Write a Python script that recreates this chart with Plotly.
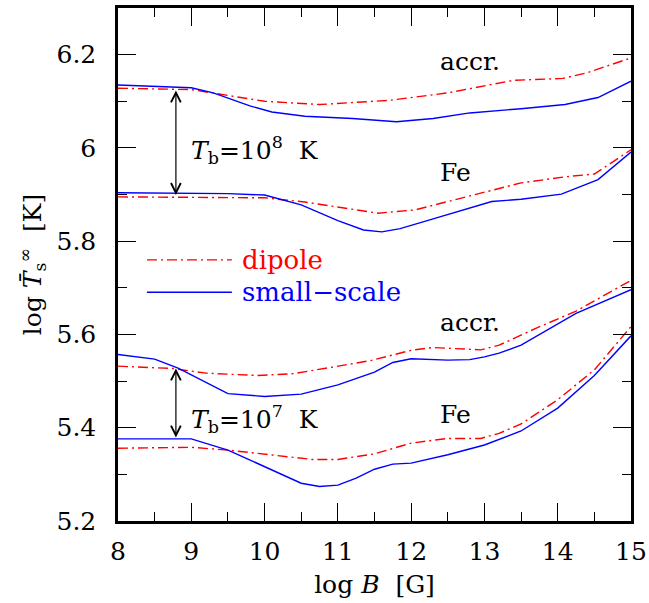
import plotly.graph_objects as go

# ---- data ----
B_acc8_dip = [8.0, 9.0, 10.0, 10.75, 11.7, 12.5, 13.4, 14.07, 14.4, 15.0]
T_acc8_dip = [6.128, 6.125, 6.100, 6.093, 6.102, 6.118, 6.145, 6.149, 6.161, 6.193]

B_acc8_ss = [8.0, 9.0, 9.3, 9.8, 10.1, 10.55, 11.2, 11.8, 12.3, 12.8, 13.5, 14.1, 14.55, 15.0]
T_acc8_ss = [6.135, 6.129, 6.118, 6.090, 6.077, 6.068, 6.063, 6.056, 6.063, 6.075, 6.084, 6.093, 6.108, 6.143]

B_fe8_dip = [8.0, 10.0, 10.55, 11.55, 12.05, 12.5, 13.0, 13.5, 14.1, 14.5, 15.0]
T_fe8_dip = [5.895, 5.893, 5.884, 5.860, 5.867, 5.885, 5.905, 5.925, 5.938, 5.944, 5.996]

B_fe8_ss = [8.0, 9.5, 10.0, 10.5, 11.0, 11.35, 11.6, 11.85, 12.3, 12.8, 13.1, 13.5, 14.05, 14.55, 15.0]
T_fe8_ss = [5.904, 5.902, 5.899, 5.878, 5.844, 5.824, 5.820, 5.827, 5.848, 5.872, 5.885, 5.890, 5.901, 5.932, 5.991]

B_acc7_dip = [8.0, 8.75, 9.2, 9.9, 10.4, 10.9, 11.45, 12.0, 12.3, 12.95, 13.2, 13.7, 14.25, 15.0]
T_acc7_dip = [5.532, 5.527, 5.517, 5.512, 5.516, 5.529, 5.544, 5.566, 5.572, 5.567, 5.577, 5.613, 5.650, 5.716]

B_acc7_ss = [8.0, 8.5, 8.82, 9.3, 9.5, 10.0, 10.5, 11.0, 11.5, 11.75, 12.0, 12.5, 12.8, 13.0, 13.2, 13.5, 14.25, 15.0]
T_acc7_ss = [5.557, 5.547, 5.528, 5.489, 5.473, 5.467, 5.472, 5.492, 5.519, 5.540, 5.548, 5.545, 5.546, 5.552, 5.560, 5.577, 5.645, 5.696]

B_fe7_dip = [8.0, 9.0, 9.5, 10.0, 10.65, 11.0, 11.5, 12.0, 12.5, 12.95, 13.2, 13.5, 14.0, 14.5, 15.0]
T_fe7_dip = [5.356, 5.358, 5.352, 5.344, 5.332, 5.332, 5.344, 5.367, 5.377, 5.377, 5.388, 5.408, 5.460, 5.524, 5.617]

B_fe7_ss = [8.0, 9.0, 9.5, 10.0, 10.5, 10.75, 11.0, 11.25, 11.5, 11.75, 12.0, 12.5, 13.0, 13.5, 14.0, 14.5, 15.0]
T_fe7_ss = [5.376, 5.376, 5.352, 5.317, 5.281, 5.274, 5.277, 5.292, 5.311, 5.322, 5.324, 5.342, 5.363, 5.393, 5.442, 5.512, 5.597]

y_tickvals = [5.2, 5.4, 5.6, 5.8, 6.0, 6.2]
y_ticktext = ["5.2", "5.4", "5.6", "5.8", "6", "6.2"]
x_tickvals = [8, 9, 10, 11, 12, 13, 14, 15]

# arrows: (x, y_top, y_bottom)
arrow8 = (8.79, 6.123, 5.896)
arrow7 = (8.79, 5.527, 5.376)

# text labels: (x, y, text)
labels = [
    (12.37, 6.186, "accr."),
    (12.37, 5.948, "Fe"),
    (8.97, 5.996, "<i>T</i><sub>b</sub>=10<sup>8</sup>  K"),
    (12.37, 5.626, "accr."),
    (12.37, 5.428, "Fe"),
    (8.97, 5.418, "<i>T</i><sub>b</sub>=10<sup>7</sup>  K"),
]

RED = "#ff0000"
BLUE = "#0000ff"
FONT = "DejaVu Serif"
FS = 25
DASHDOT = "10px,4px,2px,4px"

fig = go.Figure()
for bx, ty in [(B_acc8_dip, T_acc8_dip), (B_fe8_dip, T_fe8_dip),
               (B_acc7_dip, T_acc7_dip), (B_fe7_dip, T_fe7_dip)]:
    fig.add_trace(go.Scatter(x=bx, y=ty, mode="lines",
                             line=dict(color=RED, width=1.4, dash=DASHDOT),
                             showlegend=False, hoverinfo="skip"))
for bx, ty in [(B_acc8_ss, T_acc8_ss), (B_fe8_ss, T_fe8_ss),
               (B_acc7_ss, T_acc7_ss), (B_fe7_ss, T_fe7_ss)]:
    fig.add_trace(go.Scatter(x=bx, y=ty, mode="lines",
                             line=dict(color=BLUE, width=1.4),
                             showlegend=False, hoverinfo="skip"))

ann = []
for ax_, yt, yb in [arrow8, arrow7]:
    ann.append(dict(x=ax_, y=yt, ax=ax_, ay=yb, xref="x", yref="y", axref="x", ayref="y",
                    text="", showarrow=True, arrowhead=5, startarrowhead=5,
                    arrowside="end+start", arrowsize=1.6, arrowwidth=1.2,
                    arrowcolor="black", standoff=0, startstandoff=0))

for x, y, txt in labels:
    ann.append(dict(x=x, y=y, xref="x", yref="y", text=txt, showarrow=False,
                    xanchor="left", yanchor="middle",
                    font=dict(family=FONT, size=FS, color="black")))

# legend (drawn in paper coords)
legend_items = [("dipole", RED, DASHDOT, 0.509), ("small\u2212scale", BLUE, "solid", 0.446)]
shapes = []
for name, col, dsh, yp in legend_items:
    shapes.append(dict(type="line", xref="paper", yref="paper",
                       x0=0.0565, x1=0.222, y0=yp, y1=yp,
                       line=dict(color=col, width=1.4, dash=dsh)))
    ann.append(dict(x=0.238, y=yp, xref="paper", yref="paper", text=name,
                    showarrow=False, xanchor="left", yanchor="middle",
                    font=dict(family=FONT, size=26, color=col)))

fig.update_layout(
    width=649, height=603,
    margin=dict(l=118, r=18, t=8, b=82, autoexpand=False),
    paper_bgcolor="white", plot_bgcolor="white",
    font=dict(family=FONT, size=FS, color="black"),
    annotations=ann, shapes=shapes,
    showlegend=False,
)
fig.update_xaxes(range=[8, 15], tickvals=x_tickvals, ticks="inside", ticklen=18, tickwidth=1.3,
                 minor=dict(dtick=0.5, tick0=8, ticks="inside", ticklen=9, tickwidth=1.3, tickcolor="black"),
                 mirror="allticks", showline=True, linecolor="black", linewidth=2.5,
                 showgrid=False, zeroline=False, tickcolor="black", automargin=False,
                 ticklabelstandoff=6, ticklabeloverflow="allow",
                 tickfont=dict(family=FONT, size=FS),
                 title=dict(text="log <i>B</i>  [G]", font=dict(family=FONT, size=FS), standoff=11))
fig.update_yaxes(range=[5.2, 6.3], tickvals=y_tickvals, ticktext=y_ticktext,
                 ticks="inside", ticklen=18, tickwidth=1.3, tickcolor="black",
                 minor=dict(dtick=0.1, tick0=5.2, ticks="inside", ticklen=9, tickwidth=1.3, tickcolor="black"),
                 mirror="allticks", showline=True, linecolor="black", linewidth=2.5,
                 showgrid=False, zeroline=False, automargin=False,
                 ticklabelstandoff=14,
                 tickfont=dict(family=FONT, size=FS),
                 title=dict(text="log <i>T\u0304</i><sub>s</sub><sup>\u221e</sup>  [K]",
                            font=dict(family=FONT, size=FS), standoff=8))

fig.write_html("out.html", config={"displayModeBar": False},
               post_script="document.body.style.margin='0';")
